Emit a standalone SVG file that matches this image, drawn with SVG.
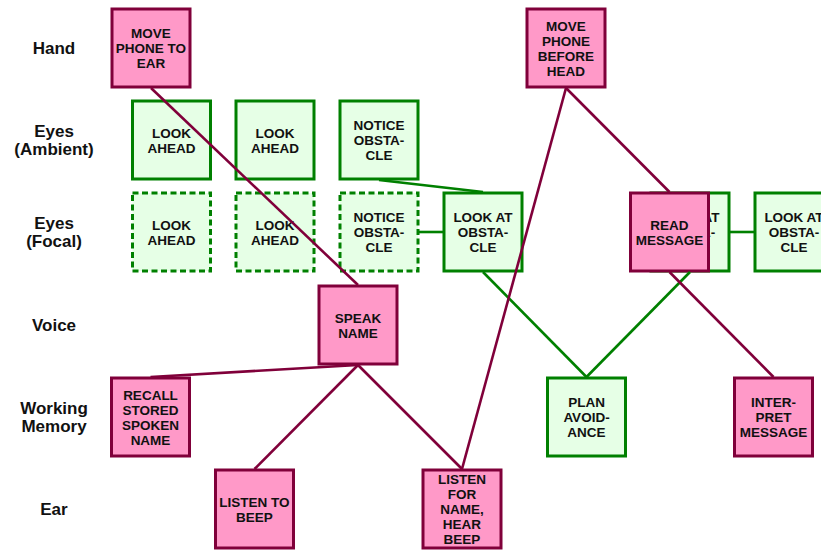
<svg xmlns="http://www.w3.org/2000/svg" width="821" height="550" viewBox="0 0 821 550">
<style>
.lbl{font-family:"Liberation Sans",Arial,sans-serif;font-weight:bold;font-size:17px;fill:#111;text-anchor:middle}
.t{font-family:"Liberation Sans",Arial,sans-serif;font-weight:bold;font-size:13.5px;fill:#111;text-anchor:middle}
.p{fill:#ff99c8;stroke:#80003a;stroke-width:3}
.g{fill:#e6ffe6;stroke:#008000;stroke-width:3}
.gd{fill:#e6ffe6;stroke:#008000;stroke-width:3;stroke-dasharray:6,3.5}
.cp{stroke:#80003a;stroke-width:2.6;fill:none}
.cg{stroke:#008000;stroke-width:2.6;fill:none}
</style>
<rect width="821" height="550" fill="#fff"/>
<g id="row-labels">
<text class="lbl" x="54" y="54">Hand</text>
<text class="lbl" x="54" y="137">Eyes</text>
<text class="lbl" x="54" y="155">(Ambient)</text>
<text class="lbl" x="54" y="229">Eyes</text>
<text class="lbl" x="54" y="247">(Focal)</text>
<text class="lbl" x="54" y="331">Voice</text>
<text class="lbl" x="54" y="414">Working</text>
<text class="lbl" x="54" y="432">Memory</text>
<text class="lbl" x="54" y="515">Ear</text>
</g>
<g id="nodes">
<g id="move-phone-to-ear"><rect class="p" x="112" y="9" width="78" height="78"/>
<text class="t" x="151" y="38">MOVE</text><text class="t" x="151" y="53">PHONE TO</text><text class="t" x="151" y="68">EAR</text></g>
<g id="look-ahead-amb-1"><rect class="g" x="132.5" y="101" width="78" height="78"/>
<text class="t" x="171.5" y="137.5">LOOK</text><text class="t" x="171.5" y="152.5">AHEAD</text></g>
<g id="look-ahead-amb-2"><rect class="g" x="236" y="101" width="78" height="78"/>
<text class="t" x="275" y="137.5">LOOK</text><text class="t" x="275" y="152.5">AHEAD</text></g>
<g id="notice-obstacle-amb"><rect class="g" x="340" y="101" width="78" height="78"/>
<text class="t" x="379" y="130">NOTICE</text><text class="t" x="379" y="145">OBSTA-</text><text class="t" x="379" y="160">CLE</text></g>
<g id="look-ahead-foc-1"><rect class="gd" x="132.5" y="193" width="78" height="78"/>
<text class="t" x="171.5" y="229.5">LOOK</text><text class="t" x="171.5" y="244.5">AHEAD</text></g>
<g id="look-ahead-foc-2"><rect class="gd" x="236" y="193" width="78" height="78"/>
<text class="t" x="275" y="229.5">LOOK</text><text class="t" x="275" y="244.5">AHEAD</text></g>
<g id="notice-obstacle-foc"><rect class="gd" x="340" y="193" width="78" height="78"/>
<text class="t" x="379" y="222">NOTICE</text><text class="t" x="379" y="237">OBSTA-</text><text class="t" x="379" y="252">CLE</text></g>
<g id="look-at-obstacle-1"><rect class="g" x="444" y="193" width="78" height="78"/>
<text class="t" x="483" y="222">LOOK AT</text><text class="t" x="483" y="237">OBSTA-</text><text class="t" x="483" y="252">CLE</text></g>
<g id="look-at-obstacle-2"><rect class="g" x="651" y="193" width="78" height="78"/>
<text class="t" x="690" y="222">LOOK AT</text><text class="t" x="690" y="237">OBSTA-</text><text class="t" x="690" y="252">CLE</text></g>
<g id="look-at-obstacle-3"><rect class="g" x="755" y="193" width="78" height="78"/>
<text class="t" x="794" y="222">LOOK AT</text><text class="t" x="794" y="237">OBSTA-</text><text class="t" x="794" y="252">CLE</text></g>
<g id="read-message"><rect class="p" x="630.5" y="193" width="78" height="78"/>
<text class="t" x="669.5" y="229.5">READ</text><text class="t" x="669.5" y="244.5">MESSAGE</text></g>
<g id="move-phone-before-head"><rect class="p" x="527" y="9" width="78" height="78"/>
<text class="t" x="566" y="30.5">MOVE</text><text class="t" x="566" y="45.5">PHONE</text><text class="t" x="566" y="60.5">BEFORE</text><text class="t" x="566" y="75.5">HEAD</text></g>
<g id="speak-name"><rect class="p" x="319" y="286" width="78" height="78"/>
<text class="t" x="358" y="322.5">SPEAK</text><text class="t" x="358" y="337.5">NAME</text></g>
<g id="recall-stored-spoken-name"><rect class="p" x="111.5" y="378" width="78" height="78"/>
<text class="t" x="150.5" y="399.5">RECALL</text><text class="t" x="150.5" y="414.5">STORED</text><text class="t" x="150.5" y="429.5">SPOKEN</text><text class="t" x="150.5" y="444.5">NAME</text></g>
<g id="plan-avoidance"><rect class="g" x="547.5" y="378" width="78" height="78"/>
<text class="t" x="586.5" y="407">PLAN</text><text class="t" x="586.5" y="422">AVOID-</text><text class="t" x="586.5" y="437">ANCE</text></g>
<g id="interpret-message"><rect class="p" x="734.5" y="378" width="78" height="78"/>
<text class="t" x="773.5" y="407">INTER-</text><text class="t" x="773.5" y="422">PRET</text><text class="t" x="773.5" y="437">MESSAGE</text></g>
<g id="listen-to-beep"><rect class="p" x="215.5" y="470" width="78" height="78"/>
<text class="t" x="254.5" y="506.5">LISTEN TO</text><text class="t" x="254.5" y="521.5">BEEP</text></g>
<g id="listen-for-name"><rect class="p" x="423" y="470" width="78" height="78"/>
<text class="t" x="462" y="484">LISTEN</text><text class="t" x="462" y="499">FOR</text><text class="t" x="462" y="514">NAME,</text><text class="t" x="462" y="529">HEAR</text><text class="t" x="462" y="544">BEEP</text></g>
</g>
<g id="connectors">
<line class="cg" x1="379" y1="180" x2="483" y2="192"/>
<line class="cg" x1="419" y1="232" x2="443" y2="232"/>
<line class="cg" x1="483" y1="272" x2="586.5" y2="377"/>
<line class="cg" x1="586.5" y1="377" x2="690" y2="272"/>
<line class="cg" x1="730" y1="232" x2="754" y2="232"/>
<line class="cp" x1="151" y1="88" x2="358" y2="285"/>
<line class="cp" x1="358" y1="365" x2="150.5" y2="377"/>
<line class="cp" x1="358" y1="365" x2="254.5" y2="469"/>
<line class="cp" x1="358" y1="365" x2="462" y2="469"/>
<line class="cp" x1="566" y1="88" x2="462" y2="469"/>
<line class="cp" x1="566" y1="88" x2="669.5" y2="192"/>
<line class="cp" x1="669.5" y1="272" x2="773.5" y2="377"/>
</g>
</svg>
